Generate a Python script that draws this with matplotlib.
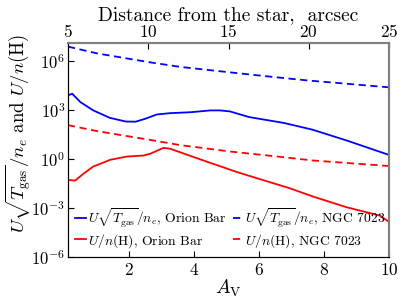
import numpy as np
import matplotlib
matplotlib.use("Agg")
import matplotlib.pyplot as plt

plt.rcParams.update({
    "font.family": "serif",
    "font.serif": ["cmr10"],
    "mathtext.fontset": "cm",
    "axes.formatter.use_mathtext": True,
    "font.size": 12,
})

# Orion Bar, U sqrt(Tgas)/ne  (log10 values)
av_ob_u = [0.12, 0.25, 0.5, 0.9, 1.4, 1.9, 2.2, 2.5, 2.85, 3.25, 3.9, 4.5, 4.8, 5.1, 5.7, 6.75, 7.65, 8.7, 10.0]
log_ob_u = [3.88, 3.98, 3.47, 2.96, 2.51, 2.28, 2.27, 2.45, 2.71, 2.79, 2.85, 2.96, 2.96, 2.90, 2.55, 2.20, 1.78, 1.12, 0.24]

# Orion Bar, U/n(H)
av_ob_h = [0.12, 0.34, 0.59, 0.9, 1.42, 1.93, 2.44, 2.65, 3.06, 3.26, 4.29, 5.31, 6.34, 6.95, 7.67, 8.7, 9.72, 10.0]
log_ob_h = [-1.29, -1.33, -0.92, -0.47, -0.06, 0.14, 0.20, 0.31, 0.67, 0.62, -0.10, -0.80, -1.43, -1.80, -2.31, -2.96, -3.47, -3.85]

# NGC 7023, U sqrt(Tgas)/ne
av_ngc_u = [0.12, 1.0, 2.58, 3.57, 5.04, 6.5, 7.5, 8.7, 10.0]
log_ngc_u = [6.86, 6.45, 5.92, 5.62, 5.30, 4.99, 4.79, 4.59, 4.37]

# NGC 7023, U/n(H)
av_ngc_h = [0.12, 1.0, 2.58, 3.57, 5.1, 6.85, 7.65, 10.0]
log_ngc_h = [2.06, 1.70, 1.18, 0.84, 0.45, 0.08, -0.10, -0.44]

labels = [r"$U\sqrt{T_{\rm gas}}/n_e$, Orion Bar",
          r"$U/n({\rm H})$, Orion Bar",
          r"$U\sqrt{T_{\rm gas}}/n_e$, NGC 7023",
          r"$U/n({\rm H})$, NGC 7023"]

xticks = [2, 4, 6, 8, 10]
yticks = [1e-6, 1e-3, 1e0, 1e3, 1e6]
top_ticks = [5, 10, 15, 20, 25]

fig = plt.figure(figsize=(4.07, 3.05), dpi=100)
ax = fig.add_axes([68/407, 1-257/305, 321/407, 214/305])

ax.plot(av_ob_u, 10**np.array(log_ob_u), color="blue", lw=1.3, label=labels[0])
ax.plot(av_ob_h, 10**np.array(log_ob_h), color="red", lw=1.3, label=labels[1])
ax.plot(av_ngc_u, 10**np.array(log_ngc_u), color="blue", lw=1.3, ls=(0, (4, 2.5)), label=labels[2])
ax.plot(av_ngc_h, 10**np.array(log_ngc_h), color="red", lw=1.3, ls=(0, (4, 2.5)), label=labels[3])

ax.set_yscale("log")
ax.set_xlim(0.12, 10)
ax.set_ylim(1e-6, 10**7.08)
ax.set_xticks(xticks)
ax.set_yticks(yticks)
ax.minorticks_off()
ax.tick_params(direction="in", length=4, top=False, right=False, labelsize=12.5)
ax.tick_params(axis="y", labelsize=12, pad=2)
ax.set_xlabel(r"$A_{\rm V}$", fontsize=14, labelpad=0)
ax.set_ylabel(r"$U\sqrt{T_{\rm gas}}/n_e$ and $U/n({\rm H})$", fontsize=13.5)
ax.yaxis.set_label_coords(-0.108, 0.58)

for s in ["top", "right"]:
    ax.spines[s].set_color("#808080")
    ax.spines[s].set_linewidth(1.5)

ax2 = ax.twiny()
ax2.set_xlim(5, 25)
ax2.set_xticks(top_ticks)
ax2.tick_params(direction="in", length=4, pad=2, labelsize=12.5)
ax2.set_xlabel("Distance from the star,  arcsec", fontsize=14, labelpad=2)
for s in ["top", "right"]:
    ax2.spines[s].set_color("#808080")
    ax2.spines[s].set_linewidth(1.5)

ax.legend(loc="lower left", ncol=2, frameon=False, fontsize=9.8,
          handlelength=0.8, handletextpad=0.1, columnspacing=0.5,
          labelspacing=0.15, borderaxespad=0.15, bbox_to_anchor=(0.0, 0.0))

fig.savefig("out.png", dpi=100)
